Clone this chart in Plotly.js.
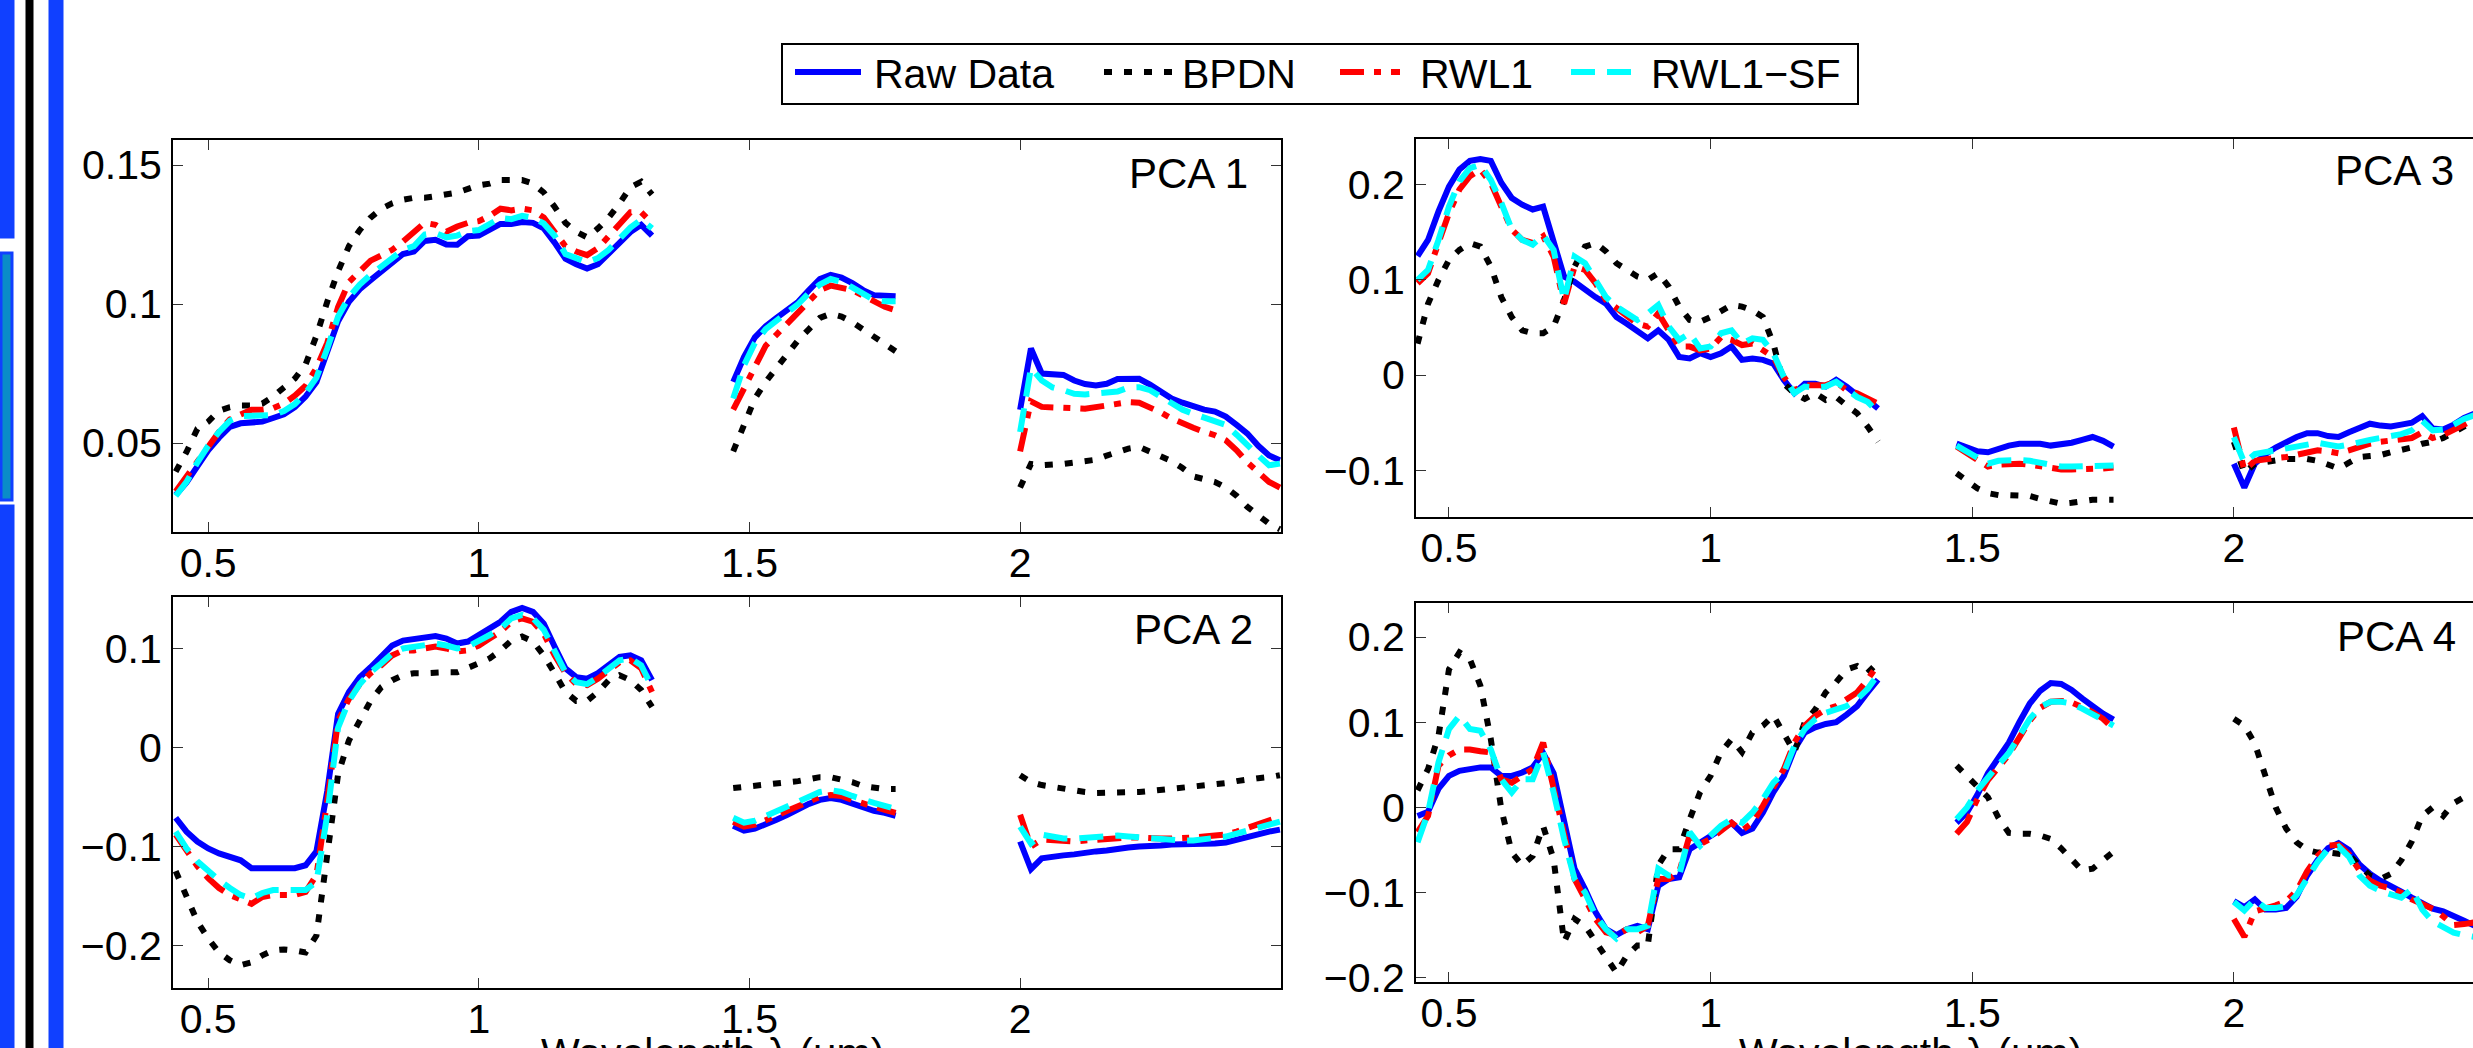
<!DOCTYPE html>
<html>
<head>
<meta charset="utf-8">
<script src="https://cdn.plot.ly/plotly-3.0.1.min.js"></script>
<style>html,body{margin:0;padding:0;background:#fff;}#chart{width:2473px;height:1048px;}</style>
</head>
<body>
<div id="chart"></div>
<script>
// ---------------- DATA ----------------
const wavelength = [0.44,0.46,0.48,0.50,0.52,0.54,0.56,0.58,0.60,0.62,0.64,0.66,0.68,0.70,0.72,0.74,0.76,0.78,0.80,0.82,0.84,0.86,0.88,0.90,0.92,0.94,0.96,0.98,1.00,1.02,1.04,1.06,1.08,1.10,1.12,1.14,1.16,1.18,1.20,1.22,1.24,1.26,1.28,1.30,1.32,
 null,1.47,1.49,1.51,1.53,1.55,1.57,1.59,1.61,1.63,1.65,1.67,1.69,1.71,1.73,1.75,1.77,
 null,2.00,2.02,2.04,2.06,2.08,2.10,2.12,2.14,2.16,2.18,2.20,2.22,2.24,2.26,2.28,2.30,2.32,2.34,2.36,2.38,2.40,2.42,2.44,2.46,2.48];

const seriesNames = ["Raw Data","BPDN","RWL1","RWL1\u2212SF"];
const panelLabels = ["PCA 1","PCA 2","PCA 3","PCA 4"];
const xTickVals = [0.5,1,1.5,2];
const xTickText = ["0.5","1","1.5","2"];
const xAxisTitle = "Wavelength \u03bb (\u03bcm)";

// PCA 1
const pca1_raw = [0.0313,0.0358,0.0416,0.0474,0.0519,0.0558,0.0571,0.0575,0.0577,0.059,0.0603,0.0629,0.0667,0.0719,0.0822,0.0938,0.1008,0.1053,0.1086,0.1118,0.115,0.118,0.1189,0.1227,0.1231,0.1214,0.1213,0.1244,0.1246,0.1266,0.1288,0.1288,0.1295,0.1292,0.1272,0.1221,0.1163,0.1143,0.1128,0.1143,0.118,0.1221,0.1259,0.1285,0.1246,
 null,0.072,0.081,0.088,0.092,0.095,0.098,0.1008,0.105,0.109,0.1105,0.1095,0.1075,0.105,0.1032,0.1028,0.1028,
 null,0.062,0.084,0.075,0.075,0.0745,0.0725,0.0712,0.0707,0.0713,0.073,0.0732,0.0731,0.071,0.0685,0.066,0.0645,0.063,0.062,0.0613,0.0595,0.0565,0.0534,0.049,0.0455,0.0438];
const pca1_bpdn = [0.0397,0.0468,0.0551,0.0577,0.0616,0.0629,0.0635,0.0635,0.0642,0.0667,0.07,0.0732,0.0783,0.0886,0.1008,0.1118,0.1208,0.1266,0.1311,0.1343,0.1362,0.1375,0.1382,0.1382,0.1388,0.1394,0.1401,0.1414,0.1427,0.1433,0.1446,0.1446,0.1446,0.1433,0.1401,0.135,0.1292,0.126,0.124,0.1272,0.1311,0.1362,0.142,0.144,0.1394,
 null,0.047,0.057,0.066,0.072,0.077,0.082,0.087,0.091,0.095,0.0965,0.0955,0.0935,0.091,0.088,0.0855,0.083,
 null,0.034,0.0425,0.042,0.042,0.0425,0.043,0.0435,0.044,0.0455,0.047,0.048,0.0486,0.047,0.0456,0.0435,0.041,0.038,0.037,0.036,0.034,0.031,0.027,0.024,0.021,0.019];
const pca1_rwl1 = [0.0326,0.038,0.044,0.0487,0.054,0.0585,0.0603,0.062,0.062,0.0625,0.0642,0.067,0.0706,0.077,0.086,0.0989,0.1079,0.112,0.1156,0.1175,0.1195,0.1225,0.126,0.1292,0.1285,0.126,0.1279,0.1292,0.1298,0.1317,0.1343,0.1337,0.1343,0.1337,0.1311,0.126,0.1208,0.1189,0.1176,0.1201,0.1246,0.1292,0.133,0.133,0.1292,
 null,0.062,0.070,0.078,0.085,0.089,0.093,0.097,0.101,0.105,0.1066,0.106,0.105,0.103,0.101,0.099,0.0978,
 null,0.047,0.065,0.063,0.063,0.063,0.0625,0.0623,0.063,0.0635,0.0645,0.0647,0.0645,0.063,0.061,0.0588,0.057,0.0555,0.054,0.0528,0.051,0.0474,0.043,0.0395,0.036,0.034];
const pca1_rwl1sf = [0.031,0.036,0.043,0.049,0.054,0.058,0.0597,0.0597,0.0597,0.060,0.0615,0.064,0.068,0.0735,0.084,0.0955,0.1025,0.107,0.1105,0.1135,0.1165,0.1195,0.1208,0.125,0.1255,0.124,0.1246,0.1262,0.1266,0.1285,0.131,0.1305,0.1317,0.131,0.129,0.1246,0.118,0.1165,0.115,0.1165,0.1195,0.1235,0.1275,0.1304,0.1272,
 null,0.066,0.078,0.086,0.091,0.094,0.097,0.100,0.104,0.107,0.109,0.108,0.106,0.104,0.1015,0.101,0.101,
 null,0.054,0.077,0.0725,0.070,0.069,0.0677,0.0675,0.0677,0.068,0.0685,0.070,0.0701,0.069,0.0665,0.064,0.062,0.0605,0.059,0.0578,0.0565,0.053,0.049,0.0455,0.042,0.0426];

// PCA 2
const pca2_raw = [-0.071,-0.085,-0.095,-0.102,-0.107,-0.110,-0.114,-0.122,-0.122,-0.122,-0.123,-0.122,-0.119,-0.105,-0.044,0.034,0.056,0.071,0.081,0.093,0.103,0.108,0.110,0.111,0.1125,0.110,0.105,0.107,0.1136,0.120,0.127,0.137,0.141,0.137,0.125,0.102,0.080,0.071,0.0695,0.075,0.083,0.0915,0.093,0.088,0.068,
 null,-0.079,-0.084,-0.082,-0.078,-0.073,-0.068,-0.062,-0.057,-0.053,-0.051,-0.053,-0.057,-0.061,-0.064,-0.066,-0.069,
 null,-0.095,-0.123,-0.112,-0.110,-0.109,-0.108,-0.106,-0.105,-0.104,-0.102,-0.101,-0.100,-0.100,-0.099,-0.098,-0.098,-0.098,-0.097,-0.097,-0.096,-0.093,-0.090,-0.087,-0.085,-0.083];
const pca2_bpdn = [-0.125,-0.149,-0.176,-0.193,-0.207,-0.215,-0.220,-0.217,-0.210,-0.205,-0.204,-0.205,-0.207,-0.190,-0.112,-0.027,0.007,0.027,0.047,0.061,0.068,0.073,0.075,0.075,0.076,0.076,0.076,0.080,0.085,0.090,0.098,0.108,0.112,0.107,0.093,0.075,0.056,0.047,0.047,0.056,0.068,0.073,0.068,0.058,0.041,
 null,-0.041,-0.040,-0.039,-0.038,-0.036,-0.035,-0.034,-0.032,-0.030,-0.030,-0.032,-0.035,-0.039,-0.041,-0.042,-0.042,
 null,-0.028,-0.035,-0.038,-0.040,-0.042,-0.044,-0.045,-0.046,-0.046,-0.046,-0.045,-0.045,-0.044,-0.043,-0.042,-0.041,-0.040,-0.038,-0.037,-0.036,-0.034,-0.032,-0.031,-0.030,-0.028];
const pca2_rwl1 = [-0.088,-0.105,-0.12,-0.132,-0.142,-0.149,-0.154,-0.158,-0.151,-0.149,-0.149,-0.149,-0.146,-0.129,-0.054,0.027,0.049,0.064,0.075,0.083,0.093,0.098,0.098,0.100,0.102,0.100,0.097,0.098,0.103,0.110,0.117,0.127,0.1305,0.127,0.115,0.093,0.075,0.064,0.063,0.0695,0.078,0.086,0.088,0.080,0.056,
 null,-0.075,-0.080,-0.078,-0.074,-0.069,-0.064,-0.059,-0.054,-0.050,-0.048,-0.049,-0.053,-0.057,-0.060,-0.063,-0.066,
 null,-0.068,-0.100,-0.093,-0.094,-0.095,-0.095,-0.094,-0.093,-0.092,-0.091,-0.091,-0.091,-0.092,-0.092,-0.092,-0.092,-0.091,-0.090,-0.089,-0.088,-0.085,-0.081,-0.077,-0.073,-0.070];
const pca2_rwl1sf = [-0.085,-0.102,-0.115,-0.125,-0.134,-0.142,-0.149,-0.1525,-0.147,-0.144,-0.144,-0.144,-0.144,-0.136,-0.068,0.020,0.047,0.064,0.076,0.085,0.095,0.100,0.102,0.103,0.105,0.103,0.100,0.102,0.107,0.1136,0.120,0.1305,0.134,0.1305,0.119,0.097,0.076,0.066,0.064,0.071,0.080,0.088,0.090,0.083,0.061,
 null,-0.071,-0.076,-0.074,-0.069,-0.064,-0.059,-0.054,-0.049,-0.045,-0.043,-0.045,-0.049,-0.053,-0.056,-0.059,-0.062,
 null,-0.080,-0.097,-0.088,-0.090,-0.092,-0.092,-0.091,-0.090,-0.089,-0.089,-0.090,-0.091,-0.092,-0.093,-0.094,-0.094,-0.094,-0.093,-0.092,-0.090,-0.087,-0.084,-0.080,-0.077,-0.075];

// PCA 3
const pca3_raw = [0.125,0.142,0.172,0.198,0.216,0.225,0.227,0.225,0.202,0.186,0.179,0.174,0.177,0.142,0.1035,0.098,0.089,0.082,0.075,0.061,0.054,0.047,0.0386,0.047,0.037,0.019,0.0175,0.023,0.019,0.023,0.030,0.016,0.0175,0.016,0.012,-0.005,-0.019,-0.009,-0.009,-0.012,-0.005,-0.012,-0.021,-0.026,-0.035,
 null,-0.072,-0.076,-0.080,-0.081,-0.077,-0.074,-0.072,-0.072,-0.072,-0.074,-0.073,-0.071,-0.068,-0.065,-0.069,-0.075,
 null,-0.093,-0.118,-0.093,-0.083,-0.076,-0.070,-0.065,-0.061,-0.061,-0.064,-0.065,-0.060,-0.056,-0.051,-0.053,-0.054,-0.052,-0.050,-0.043,-0.056,-0.057,-0.052,-0.045,-0.040,-0.036];
const pca3_bpdn = [0.033,0.075,0.100,0.121,0.1315,0.1386,0.135,0.114,0.082,0.061,0.047,0.044,0.044,0.051,0.079,0.114,0.135,0.1386,0.130,0.1175,0.1105,0.1035,0.100,0.107,0.093,0.072,0.058,0.056,0.061,0.068,0.0737,0.072,0.068,0.061,0.033,-0.009,-0.019,-0.025,-0.019,-0.026,-0.023,-0.032,-0.040,-0.054,-0.070,
 null,-0.103,-0.112,-0.119,-0.124,-0.126,-0.126,-0.126,-0.127,-0.130,-0.133,-0.135,-0.134,-0.132,-0.131,-0.131,-0.131,
 null,-0.070,-0.103,-0.093,-0.091,-0.089,-0.088,-0.088,-0.088,-0.090,-0.094,-0.098,-0.092,-0.086,-0.085,-0.084,-0.081,-0.079,-0.076,-0.072,-0.070,-0.066,-0.060,-0.054,-0.048,-0.044];
const pca3_rwl1 = [0.0965,0.107,0.139,0.170,0.195,0.209,0.216,0.202,0.177,0.153,0.142,0.139,0.146,0.1245,0.075,0.114,0.1105,0.0965,0.079,0.070,0.061,0.054,0.051,0.065,0.047,0.030,0.030,0.026,0.028,0.040,0.037,0.0316,0.0333,0.026,0.019,-0.002,-0.016,-0.0105,-0.0105,-0.0105,-0.007,-0.016,-0.019,-0.025,-0.030,
 null,-0.075,-0.082,-0.090,-0.096,-0.094,-0.093,-0.093,-0.094,-0.096,-0.098,-0.099,-0.099,-0.099,-0.099,-0.098,-0.097,
 null,-0.055,-0.100,-0.090,-0.088,-0.087,-0.086,-0.084,-0.081,-0.079,-0.080,-0.082,-0.079,-0.075,-0.072,-0.070,-0.069,-0.068,-0.066,-0.060,-0.066,-0.063,-0.058,-0.052,-0.046,-0.042];
const pca3_rwl1sf = [0.100,0.1105,0.142,0.177,0.2035,0.2175,0.221,0.205,0.181,0.153,0.142,0.137,0.147,0.1315,0.079,0.1245,0.1175,0.100,0.082,0.072,0.065,0.058,0.065,0.0737,0.051,0.037,0.044,0.028,0.030,0.044,0.047,0.0333,0.0386,0.037,0.023,-0.002,-0.019,-0.012,-0.013,-0.012,-0.007,-0.016,-0.023,-0.028,-0.039,
 null,-0.074,-0.080,-0.087,-0.093,-0.090,-0.089,-0.089,-0.090,-0.092,-0.094,-0.096,-0.096,-0.096,-0.096,-0.095,-0.095,
 null,-0.065,-0.092,-0.083,-0.081,-0.080,-0.078,-0.076,-0.073,-0.071,-0.073,-0.075,-0.073,-0.070,-0.068,-0.066,-0.064,-0.062,-0.058,-0.048,-0.058,-0.057,-0.052,-0.046,-0.042,-0.038];

// PCA 4
const pca4_raw = [-0.010,-0.005,0.022,0.037,0.043,0.045,0.047,0.047,0.037,0.037,0.041,0.047,0.064,0.040,-0.014,-0.072,-0.096,-0.123,-0.143,-0.150,-0.143,-0.139,-0.143,-0.092,-0.084,-0.082,-0.049,-0.041,-0.033,-0.025,-0.018,-0.030,-0.025,-0.006,0.018,0.037,0.068,0.088,0.094,0.098,0.100,0.109,0.119,0.135,0.150,
 null,-0.018,-0.006,0.015,0.040,0.058,0.076,0.100,0.122,0.137,0.146,0.145,0.138,0.128,0.118,0.110,0.103,
 null,-0.110,-0.117,-0.108,-0.120,-0.120,-0.118,-0.105,-0.080,-0.062,-0.048,-0.042,-0.050,-0.067,-0.078,-0.086,-0.092,-0.099,-0.106,-0.113,-0.119,-0.122,-0.127,-0.133,-0.139,-0.143];
const pca4_bpdn = [0.020,0.045,0.084,0.162,0.182,0.174,0.143,0.080,-0.002,-0.053,-0.068,-0.057,-0.022,-0.061,-0.158,-0.131,-0.139,-0.158,-0.178,-0.194,-0.174,-0.162,-0.162,-0.068,-0.049,-0.049,-0.014,0.018,0.037,0.065,0.080,0.065,0.088,0.096,0.108,0.088,0.065,0.100,0.115,0.135,0.147,0.162,0.166,0.158,0.170,
 null,0.049,0.037,0.026,0.012,-0.012,-0.030,-0.031,-0.031,-0.033,-0.037,-0.048,-0.062,-0.074,-0.072,-0.062,-0.052,
 null,0.104,0.096,0.075,0.040,0.000,-0.025,-0.041,-0.050,-0.053,-0.053,-0.054,-0.056,-0.068,-0.080,-0.084,-0.078,-0.062,-0.040,-0.010,0.000,-0.010,0.005,0.012,0.014,0.016];
const pca4_rwl1 = [-0.029,-0.010,0.049,0.061,0.068,0.068,0.066,0.0645,0.033,0.029,0.037,0.045,0.076,0.025,-0.029,-0.084,-0.1075,-0.131,-0.1466,-0.150,-0.143,-0.1466,-0.139,-0.084,-0.084,-0.076,-0.033,-0.043,-0.037,-0.027,-0.018,-0.027,-0.018,0.002,0.025,0.045,0.076,0.096,0.1075,0.115,0.119,0.127,0.135,0.150,0.168,
 null,-0.031,-0.017,0.010,0.032,0.047,0.062,0.082,0.102,0.117,0.124,0.125,0.123,0.118,0.112,0.104,0.092,
 null,-0.131,-0.152,-0.122,-0.119,-0.115,-0.110,-0.098,-0.075,-0.057,-0.045,-0.044,-0.055,-0.074,-0.086,-0.092,-0.095,-0.100,-0.108,-0.114,-0.119,-0.128,-0.138,-0.137,-0.135,-0.140];
const pca4_rwl1sf = [-0.041,-0.006,0.053,0.092,0.1075,0.092,0.090,0.068,0.033,0.0176,0.033,0.033,0.0645,0.0176,-0.037,-0.084,-0.0997,-0.127,-0.143,-0.154,-0.143,-0.143,-0.139,-0.072,-0.080,-0.080,-0.029,-0.045,-0.033,-0.0215,-0.014,-0.018,-0.006,0.0098,0.029,0.041,0.072,0.092,0.1036,0.111,0.115,0.119,0.127,0.139,0.156,
 null,-0.014,0.000,0.020,0.036,0.050,0.064,0.083,0.104,0.118,0.124,0.124,0.122,0.116,0.109,0.102,0.096,
 null,-0.111,-0.121,-0.108,-0.118,-0.118,-0.116,-0.103,-0.082,-0.064,-0.049,-0.046,-0.058,-0.080,-0.092,-0.098,-0.102,-0.106,-0.096,-0.120,-0.134,-0.141,-0.147,-0.150,-0.152,-0.152];

// y-axis ticks per panel
const yTicks1 = [0.05,0.1,0.15];
const yTicks2 = [-0.2,-0.1,0,0.1];
const yTicks3 = [-0.1,0,0.1,0.2];
const yTicks4 = [-0.2,-0.1,0,0.1,0.2];

// ---------------- BUILD ----------------
const W = 2473, H = 1048;
const px = v => v / W;
const py = v => 1 - v / H;
const FONT = "Liberation Sans, Arial, Helvetica, sans-serif";

const styles = [
  {color:"#0000ff", dash:"solid", width:6},
  {color:"#000000", dash:"8px,12px", width:6},
  {color:"#ff0000", dash:"24px,10px,7px,10px", width:6},
  {color:"#00ffff", dash:"24px,12px", width:6}
];
const panels = [
  [pca1_raw,pca1_bpdn,pca1_rwl1,pca1_rwl1sf],
  [pca2_raw,pca2_bpdn,pca2_rwl1,pca2_rwl1sf],
  [pca3_raw,pca3_bpdn,pca3_rwl1,pca3_rwl1sf],
  [pca4_raw,pca4_bpdn,pca4_rwl1,pca4_rwl1sf]
];
const traces = [];
panels.forEach((set, p) => {
  set.forEach((ys, s) => {
    traces.push({
      type:"scatter", mode:"lines", x:wavelength, y:ys,
      xaxis: p===0 ? "x" : "x"+(p+1), yaxis: p===0 ? "y" : "y"+(p+1),
      name: seriesNames[s], showlegend:false, connectgaps:false,
      line:{color:styles[s].color, width:styles[s].width, dash:styles[s].dash}
    });
  });
});

const fmt = v => (v<0 ? "\u2212" : "") + String(Math.abs(v));
function xAx(domain, range, anchor, mirror){
  return {domain, range, anchor, tickmode:"array", tickvals:xTickVals, ticktext:xTickText,
    ticks:"inside", ticklen:10, tickwidth:1, tickcolor:"#333", showline:true, linecolor:"#000", linewidth:2,
    mirror:mirror, showgrid:false, zeroline:false, tickfont:{family:FONT, size:41, color:"#000"}, ticklabelstandoff:-6};
}
function yAx(domain, range, anchor, ticks, mirror){
  return {domain, range, anchor, tickmode:"array", tickvals:ticks, ticktext:ticks.map(fmt),
    ticks:"inside", ticklen:10, tickwidth:1, tickcolor:"#333", showline:true, linecolor:"#000", linewidth:2,
    mirror:mirror, showgrid:false, zeroline:false, tickfont:{family:FONT, size:41, color:"#000"}, ticklabelstandoff:1};
}
const Ldom = [px(173), px(1281)], Rdom = [px(1416), 1];
const layout = {
  width:W, height:H, margin:{l:0,r:0,t:0,b:0}, paper_bgcolor:"#fff", plot_bgcolor:"#fff", showlegend:false,
  font:{family:FONT, color:"#000"},
  xaxis:  xAx(Ldom, [0.435,2.482], "y", "ticks"),
  yaxis:  yAx([py(532), py(140)], [0.018,0.159], "x", yTicks1, "ticks"),
  xaxis2: xAx(Ldom, [0.435,2.482], "y2", "ticks"),
  yaxis2: yAx([py(988), py(597)], [-0.243,0.152], "x2", yTicks2, "ticks"),
  xaxis3: xAx(Rdom, [0.437,2.457], "y3", "ticks"),
  yaxis3: yAx([py(517), py(139)], [-0.149,0.248], "x3", yTicks3, false),
  xaxis4: xAx(Rdom, [0.437,2.457], "y4", "ticks"),
  yaxis4: yAx([py(982), py(603)], [-0.205,0.24], "x4", yTicks4, false),
  shapes:[], annotations:[]
};

// panel labels
const lblPos = [[1250,174],[1255,629],[2456,171],[2458,636]];
panelLabels.forEach((t,i)=>{
  layout.annotations.push({text:t, xref:"paper", yref:"paper", x:px(lblPos[i][0]), y:py(lblPos[i][1]),
    xanchor:"right", yanchor:"middle", showarrow:false, font:{family:FONT, size:42, color:"#000"}});
});
// axis titles (clipped at bottom like the reference)
[[712],[1911]].forEach(c=>{
  layout.annotations.push({text:xAxisTitle, xref:"paper", yref:"paper", x:px(c[0]), y:py(1028),
    xanchor:"center", yanchor:"top", showarrow:false, font:{family:FONT, size:41, color:"#000"}});
});

// legend (drawn as box, sample lines and labels)
layout.shapes.push({type:"rect", xref:"paper", yref:"paper", x0:px(782), x1:px(1858), y0:py(104), y1:py(44),
  line:{color:"#000", width:2}, fillcolor:"#fff"});
const legLines = [[795,861],[1104,1173],[1340,1400],[1571,1641]];
const legText = [872,1180,1418,1649];
seriesNames.forEach((n,i)=>{
  layout.shapes.push({type:"line", xref:"paper", yref:"paper", x0:px(legLines[i][0]), x1:px(legLines[i][1]),
    y0:py(72), y1:py(72), line:{color:styles[i].color, width:styles[i].width, dash:styles[i].dash}});
  layout.annotations.push({text:n, xref:"paper", yref:"paper", x:px(legText[i]), y:py(74),
    xanchor:"left", yanchor:"middle", showarrow:false, font:{family:FONT, size:41, color:"#000"}});
});

// left-edge decorations from the source page
const deco = [
  {x0:0,x1:13,y0:0,y1:237,fill:"#1040ff",line:"#1040ff"},
  {x0:1,x1:12,y0:253,y1:500,fill:"#0a8cc8",line:"#1040ff"},
  {x0:0,x1:13,y0:506,y1:1048,fill:"#1040ff",line:"#1040ff"},
  {x0:27,x1:32,y0:0,y1:1048,fill:"#000",line:"#000"},
  {x0:50,x1:62,y0:0,y1:1048,fill:"#1040ff",line:"#1040ff"}
];
deco.forEach(d=>layout.shapes.push({type:"rect", xref:"paper", yref:"paper", x0:px(d.x0), x1:px(d.x1),
  y0:py(d.y1), y1:py(d.y0), fillcolor:d.fill, line:{color:d.line, width:3}, layer:"above"}));

Plotly.newPlot("chart", traces, layout, {staticPlot:true, displayModeBar:false});
</script>
</body>
</html>
